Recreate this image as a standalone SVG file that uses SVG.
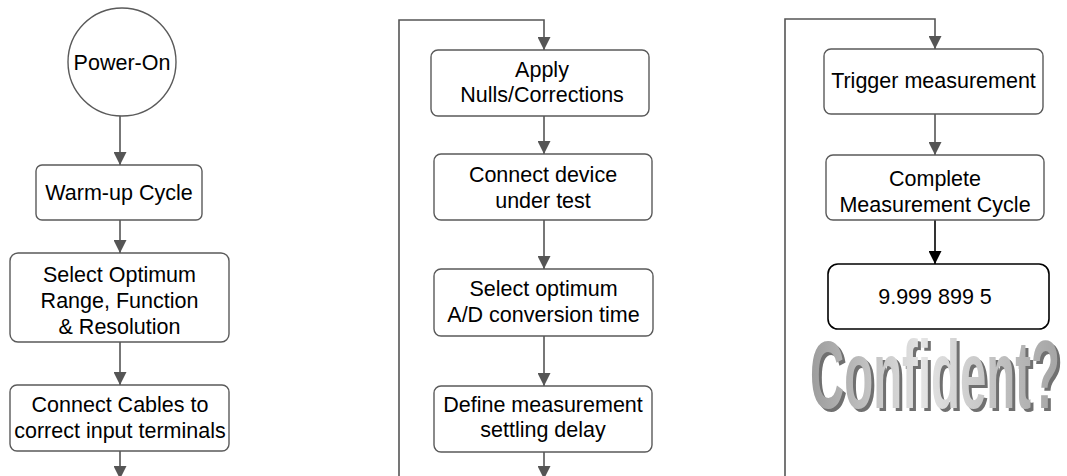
<svg xmlns="http://www.w3.org/2000/svg" width="1067" height="476" viewBox="0 0 1067 476">
<defs>
<style>
.box{fill:#fff;stroke:#5a5a5a;stroke-width:1.4}
.res{fill:#fff;stroke:#000;stroke-width:1.6}
.t{font-family:"Liberation Sans",Arial,sans-serif;font-size:21.5px;fill:#000;text-anchor:middle}
.c{fill:none;stroke:#555;stroke-width:1.6}
.cb{fill:none;stroke:#000;stroke-width:1.6}
.big{font-family:"Liberation Sans Narrow","Liberation Sans",Arial,sans-serif;font-weight:bold;font-size:97px}
</style>
<marker id="ah" markerUnits="userSpaceOnUse" markerWidth="13" markerHeight="13" refX="13" refY="6.5" orient="auto">
<path d="M0,0 L13,6.5 L0,13 z" fill="#555"/>
</marker>
<marker id="ahb" markerUnits="userSpaceOnUse" markerWidth="13" markerHeight="13" refX="13" refY="6.5" orient="auto">
<path d="M0,0 L13,6.5 L0,13 z" fill="#000"/>
</marker>
<linearGradient id="g" x1="0" y1="0" x2="1" y2="0">
<stop offset="0" stop-color="#9c9c9c"/>
<stop offset="0.45" stop-color="#e4e4e4"/>
<stop offset="1" stop-color="#a4a4a4"/>
</linearGradient>
</defs>

<g id="connectors">
<line class="c" x1="120" y1="116" x2="120" y2="165" marker-end="url(#ah)"/>
<line class="c" x1="120" y1="220" x2="120" y2="253" marker-end="url(#ah)"/>
<line class="c" x1="120" y1="342" x2="120" y2="385" marker-end="url(#ah)"/>
<line class="c" x1="120" y1="451" x2="120" y2="479" marker-end="url(#ah)"/>

<polyline class="c" points="399,476 399,20 544,20 544,50" marker-end="url(#ah)"/>
<line class="c" x1="544" y1="116" x2="544" y2="154" marker-end="url(#ah)"/>
<line class="c" x1="544" y1="220" x2="544" y2="269" marker-end="url(#ah)"/>
<line class="c" x1="544" y1="336" x2="544" y2="386" marker-end="url(#ah)"/>
<line class="c" x1="544" y1="452" x2="544" y2="479" marker-end="url(#ah)"/>

<polyline class="c" points="785,476 785,19 935,19 935,49" marker-end="url(#ah)"/>
<line class="c" x1="935" y1="114" x2="935" y2="155" marker-end="url(#ah)"/>
<line class="cb" x1="935" y1="220" x2="935" y2="264" marker-end="url(#ahb)"/>
</g>

<g id="power-on">
<circle cx="122" cy="62" r="54" fill="#fff" stroke="#5a5a5a" stroke-width="1.4"/>
<text class="t" x="122" y="69.5">Power-On</text>
</g>
<g id="warm-up">
<rect class="box" x="36" y="165" width="166" height="55" rx="6"/>
<text class="t" x="119" y="200">Warm-up Cycle</text>
</g>
<g id="select-range">
<rect class="box" x="10" y="253" width="219" height="89" rx="8"/>
<text class="t" x="119.5" y="282">Select Optimum</text>
<text class="t" x="119.5" y="308">Range, Function</text>
<text class="t" x="119.5" y="334">&amp; Resolution</text>
</g>
<g id="connect-cables">
<rect class="box" x="10" y="385" width="219" height="66" rx="7"/>
<text class="t" x="120" y="412">Connect Cables to</text>
<text class="t" x="120" y="438">correct input terminals</text>
</g>

<g id="apply-nulls">
<rect class="box" x="431" y="50" width="218" height="66" rx="7"/>
<text class="t" x="542" y="77">Apply</text>
<text class="t" x="542" y="102">Nulls/Corrections</text>
</g>
<g id="connect-device">
<rect class="box" x="434" y="154" width="218" height="66" rx="7"/>
<text class="t" x="543" y="182">Connect device</text>
<text class="t" x="543" y="208">under test</text>
</g>
<g id="select-ad">
<rect class="box" x="434" y="269" width="219" height="67" rx="7"/>
<text class="t" x="543.5" y="296">Select optimum</text>
<text class="t" x="543.5" y="322">A/D conversion time</text>
</g>
<g id="define-delay">
<rect class="box" x="434" y="386" width="218" height="66" rx="7"/>
<text class="t" x="543" y="412">Define measurement</text>
<text class="t" x="543" y="437">settling delay</text>
</g>

<g id="trigger">
<rect class="box" x="824" y="49" width="219" height="65" rx="7"/>
<text class="t" x="933.5" y="88">Trigger measurement</text>
</g>
<g id="complete-cycle">
<rect class="box" x="826" y="155" width="218" height="65" rx="7"/>
<text class="t" x="935" y="186">Complete</text>
<text class="t" x="935" y="212">Measurement Cycle</text>
</g>
<g id="result">
<rect class="res" x="828" y="264" width="221" height="65" rx="10"/>
<text class="t" x="935" y="304">9.999 899 5</text>
</g>

<g id="confident">
<text class="big" x="813" y="411" fill="#707070" textLength="250" lengthAdjust="spacingAndGlyphs">Confident?</text>
<text class="big" x="810" y="408" fill="url(#g)" textLength="250" lengthAdjust="spacingAndGlyphs">Confident?</text>
</g>
</svg>
